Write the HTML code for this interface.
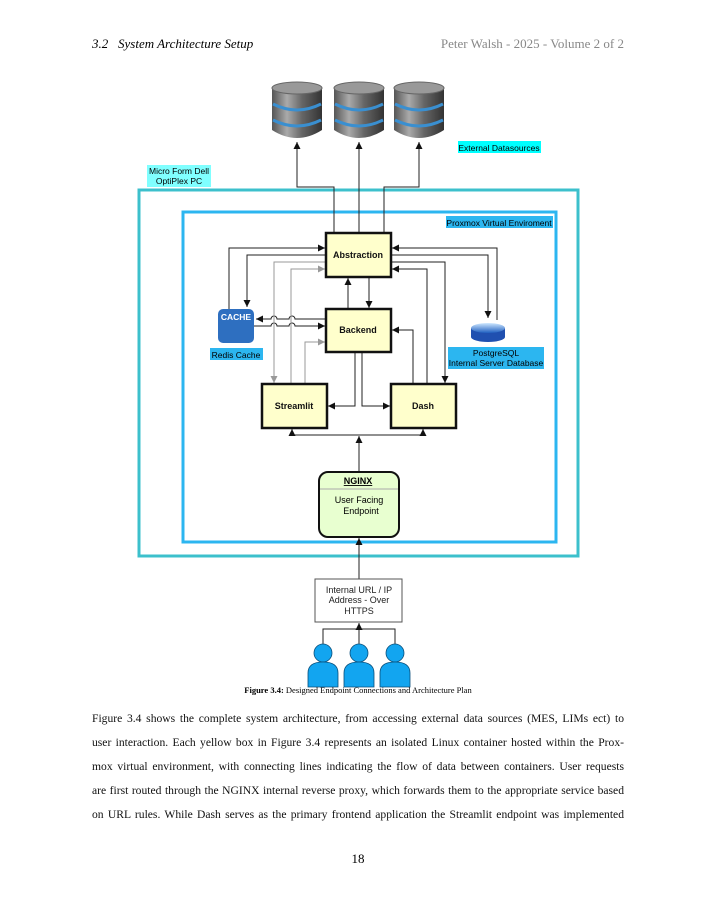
<!DOCTYPE html>
<html><head><meta charset="utf-8"><style>
body{margin:0;background:#fff;width:716px;height:906px;position:relative;overflow:hidden;font-family:"Liberation Serif",serif;}
.hd{position:absolute;top:36px;font-size:13px;}
.p{position:absolute;left:92px;width:532px;top:707px;font-size:11.6px;line-height:24px;color:#111;}
.p div{text-align:justify;text-align-last:justify;height:24px;overflow:visible;}
svg{position:absolute;left:0;top:0;}
</style></head><body>
<div class="hd" style="left:92px;font-style:italic">3.2&nbsp;&nbsp;&nbsp;System Architecture Setup</div>
<div class="hd" style="right:92px;color:#888">Peter Walsh - 2025 - Volume 2 of 2</div>
<svg width="716" height="906" viewBox="0 0 716 906" font-family="Liberation Sans, sans-serif">
<defs>
<marker id="a" markerWidth="8" markerHeight="8" refX="7" refY="4" orient="auto" markerUnits="userSpaceOnUse"><path d="M0,0.5 L7,4 L0,7.5z" fill="#111"/></marker>
<marker id="g" markerWidth="8" markerHeight="8" refX="7" refY="4" orient="auto" markerUnits="userSpaceOnUse"><path d="M0,0.5 L7,4 L0,7.5z" fill="#999"/></marker>
<linearGradient id="db" x1="0" x2="1"><stop offset="0" stop-color="#555"/><stop offset=".3" stop-color="#aaa"/><stop offset=".6" stop-color="#666"/><stop offset="1" stop-color="#333"/></linearGradient>
<linearGradient id="pu" x1="0" y1="0" x2="0" y2="1"><stop offset="0" stop-color="#cfe8ff"/><stop offset="1" stop-color="#1f5fc0"/></linearGradient>
</defs>
<g>
<g transform="translate(297,0)"><path d="M-25,88 L-25,130 Q0,146 25,130 L25,88z" fill="url(#db)"/><ellipse cx="0" cy="88" rx="25" ry="6" fill="#999" stroke="#666"/><path d="M-24,104 Q0,116 24,104" stroke="#3a8fd0" stroke-width="3" fill="none"/><path d="M-24,120 Q0,132 24,120" stroke="#3a8fd0" stroke-width="3" fill="none"/></g>
<g transform="translate(359,0)"><path d="M-25,88 L-25,130 Q0,146 25,130 L25,88z" fill="url(#db)"/><ellipse cx="0" cy="88" rx="25" ry="6" fill="#999" stroke="#666"/><path d="M-24,104 Q0,116 24,104" stroke="#3a8fd0" stroke-width="3" fill="none"/><path d="M-24,120 Q0,132 24,120" stroke="#3a8fd0" stroke-width="3" fill="none"/></g>
<g transform="translate(419,0)"><path d="M-25,88 L-25,130 Q0,146 25,130 L25,88z" fill="url(#db)"/><ellipse cx="0" cy="88" rx="25" ry="6" fill="#999" stroke="#666"/><path d="M-24,104 Q0,116 24,104" stroke="#3a8fd0" stroke-width="3" fill="none"/><path d="M-24,120 Q0,132 24,120" stroke="#3a8fd0" stroke-width="3" fill="none"/></g>
</g>
<rect x="458" y="141" width="83" height="12" fill="#00ffff"/><text x="499" y="151" font-size="8.5" text-anchor="middle">External Datasources</text>
<rect x="147" y="165" width="64" height="22" fill="#80ffff"/><text x="179" y="174" font-size="8.5" text-anchor="middle">Micro Form Dell</text><text x="179" y="184" font-size="8.5" text-anchor="middle">OptiPlex PC</text>
<rect x="139" y="190" width="439" height="366" fill="none" stroke="#3cc0cc" stroke-width="3"/>
<rect x="183" y="212" width="373" height="330" fill="none" stroke="#2cb6f0" stroke-width="3"/>
<rect x="446" y="216" width="107" height="12" fill="#2cb6f0"/><text x="499" y="226" font-size="8.5" text-anchor="middle">Proxmox Virtual Enviroment</text>
<g fill="none" stroke="#222" stroke-width="1">
<path d="M334,233 V187 H297 V142" marker-end="url(#a)"/>
<path d="M359,233 V142" marker-end="url(#a)"/>
<path d="M384,233 V187 H419 V142" marker-end="url(#a)"/>
<path d="M229,309 V248 H325" marker-end="url(#a)"/>
<path d="M326,255 H247 V307" marker-end="url(#a)"/>
<path d="M326,319 H295 a3,3 0 0 0 -6,0 H277 a3,3 0 0 0 -6,0 H256" marker-end="url(#a)"/>
<path d="M254,326 H271 a3,3 0 0 1 6,0 H289 a3,3 0 0 1 6,0 H325" marker-end="url(#a)"/>
<path d="M348,309 V278" marker-end="url(#a)"/>
<path d="M369,277 V308" marker-end="url(#a)"/>
<path d="M497,320 V248 H392" marker-end="url(#a)"/>
<path d="M391,255 H488 V318" marker-end="url(#a)"/>
<path d="M391,262 H445 V383" marker-end="url(#a)"/>
<path d="M427,384 V269 H392" marker-end="url(#a)"/>
<path d="M413,384 V330 H392" marker-end="url(#a)"/>
<path d="M355,352 V406 H328" marker-end="url(#a)"/>
<path d="M362,352 V406 H390" marker-end="url(#a)"/>
<path d="M359,472 V436" marker-end="url(#a)"/>
<path d="M292,435 H423"/>
<path d="M292,435 V429" marker-end="url(#a)"/>
<path d="M423,435 V429" marker-end="url(#a)"/>
<path d="M359,579 V538" marker-end="url(#a)"/>
<path d="M323,645 V629 H395 V645 M359,645 V623" />
<path d="M359,630 V623" marker-end="url(#a)"/>
</g>
<g fill="none" stroke="#999" stroke-width="1">
<path d="M326,262 H274 V383" marker-end="url(#g)"/>
<path d="M291,384 V269 H325" marker-end="url(#g)"/>
<path d="M305,384 V342 H325" marker-end="url(#g)"/>
</g>
<g stroke="#111" stroke-width="2.5" fill="#ffffcc">
<rect x="326" y="233" width="65" height="44"/>
<rect x="326" y="309" width="65" height="43"/>
<rect x="262" y="384" width="65" height="44"/>
<rect x="391" y="384" width="65" height="44"/>
</g>
<g font-size="9" font-weight="bold" text-anchor="middle" fill="#111">
<text x="358" y="258">Abstraction</text><text x="358" y="333">Backend</text><text x="294" y="409">Streamlit</text><text x="423" y="409">Dash</text>
</g>
<rect x="319" y="472" width="80" height="65" rx="9" fill="#e8ffd0" stroke="#111" stroke-width="2"/>
<line x1="320" y1="489" x2="398" y2="489" stroke="#aaa"/>
<text x="358" y="484" font-size="9" font-weight="bold" text-anchor="middle" text-decoration="underline">NGINX</text>
<text x="359" y="503" font-size="9" text-anchor="middle">User Facing</text><text x="361" y="514" font-size="9" text-anchor="middle">Endpoint</text>
<rect x="218" y="309" width="36" height="34" rx="5" fill="#2e6fc0"/>
<text x="236" y="320" font-size="8.5" font-weight="bold" fill="#fff" text-anchor="middle">CACHE</text>
<rect x="210" y="348" width="53" height="12" fill="#2cb6f0"/><text x="236" y="358" font-size="8.5" text-anchor="middle">Redis Cache</text>
<path d="M471,328 V337 A17,5 0 0 0 505,337 V328z" fill="#2050b0"/>
<ellipse cx="488" cy="328" rx="17" ry="5" fill="url(#pu)"/>
<rect x="448" y="347" width="96" height="22" fill="#2cb6f0"/>
<text x="496" y="356" font-size="8.5" text-anchor="middle">PostgreSQL</text><text x="496" y="366" font-size="8.5" text-anchor="middle">Internal Server Database</text>
<rect x="315" y="579" width="87" height="43" fill="#fff" stroke="#555"/>
<g font-size="9" text-anchor="middle" fill="#222"><text x="359" y="593">Internal URL / IP</text><text x="359" y="603">Address - Over</text><text x="359" y="614">HTTPS</text></g>
<g fill="#12a5f0" stroke="#0b4f7a" stroke-width="0.8">
<circle cx="323" cy="653" r="9"/><path d="M308,687 V673 Q308,662 323,662 Q338,662 338,673 V687z"/>
<circle cx="359" cy="653" r="9"/><path d="M344,687 V673 Q344,662 359,662 Q374,662 374,673 V687z"/>
<circle cx="395" cy="653" r="9"/><path d="M380,687 V673 Q380,662 395,662 Q410,662 410,673 V687z"/>
</g>
<text x="358" y="693" font-size="8.5" text-anchor="middle" font-family="Liberation Serif, serif"><tspan font-weight="bold">Figure 3.4:</tspan> Designed Endpoint Connections and Architecture Plan</text>
<text x="358" y="863" font-size="13" text-anchor="middle" font-family="Liberation Serif, serif">18</text>
</svg>
<div class="p">
<div>Figure 3.4 shows the complete system architecture, from accessing external data sources (MES, LIMs ect) to</div>
<div>user interaction. Each yellow box in Figure 3.4 represents an isolated Linux container hosted within the Prox-</div>
<div>mox virtual environment, with connecting lines indicating the flow of data between containers. User requests</div>
<div>are first routed through the NGINX internal reverse proxy, which forwards them to the appropriate service based</div>
<div>on URL rules. While Dash serves as the primary frontend application the Streamlit endpoint was implemented</div>
</div>
</body></html>
